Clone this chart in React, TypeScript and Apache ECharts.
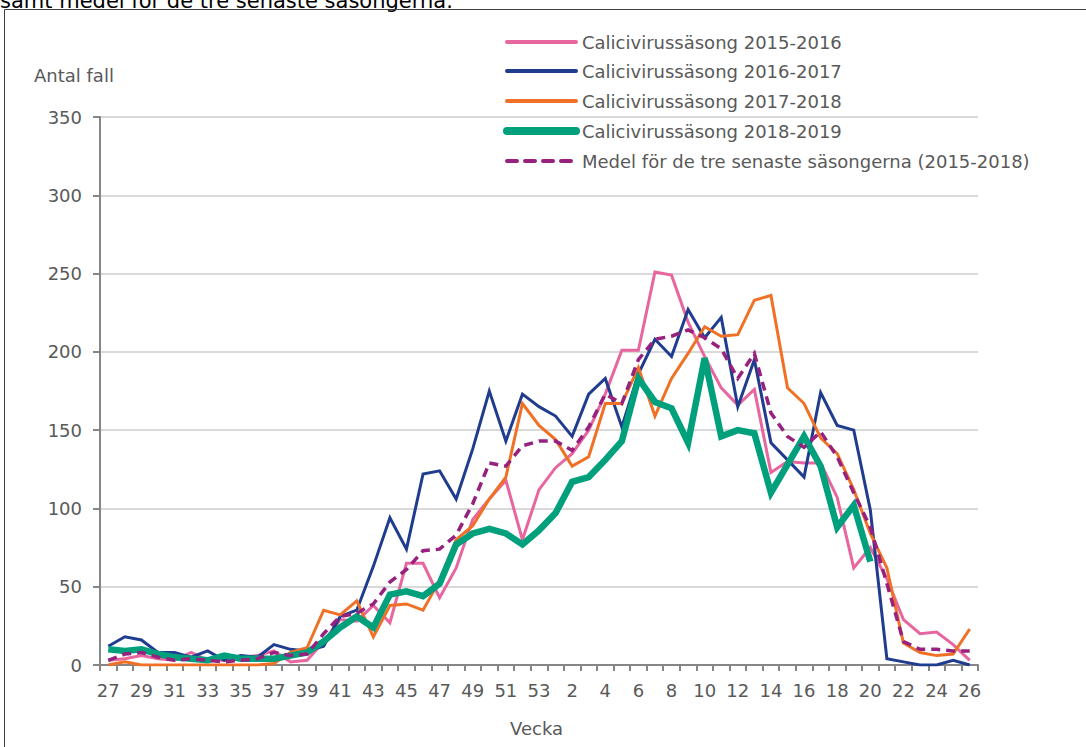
import React, { useEffect, useRef } from "react";
import * as echarts from "echarts";

const weeks: string[] = [
  "27","28","29","30","31","32","33","34","35","36","37","38","39","40","41","42","43","44","45","46","47","48","49","50","51","52","53",
  "1","2","3","4","5","6","7","8","9","10","11","12","13","14","15","16","17","18","19","20","21","22","23","24","25","26",
];

const season1516: number[] = [
  3,4,6,4,3,8,3,3,5,6,9,2,3,15,29,28,38,27,65,65,43,62,93,106,118,80,112,
  126,135,150,173,201,201,251,249,219,197,177,166,176,123,130,129,129,107,62,75,55,29,20,21,13,3,
];
const season1617: number[] = [
  12,18,16,8,8,5,9,3,6,5,13,10,9,12,31,35,63,94,74,122,124,106,138,175,143,173,165,
  159,146,173,183,152,186,208,197,227,209,222,165,195,142,131,120,174,153,150,99,4,2,0,0,3,0,
];
const season1718: number[] = [
  0,2,0,0,0,0,0,0,0,0,1,8,11,35,32,41,18,38,39,35,54,80,89,106,120,167,153,
  144,127,133,167,167,190,159,183,199,216,210,211,233,236,177,167,145,135,112,84,62,14,8,6,7,23,
];
const season1819: (number | null)[] = [
  10,9,10,7,5,4,3,6,4,4,4,6,8,15,24,31,24,45,47,44,52,77,84,87,84,77,86,
  97,117,120,131,143,183,168,164,142,196,146,150,148,110,128,146,127,88,102,66,null,null,null,null,null,null,
];
const mean1518: number[] = [
  3,7,8,5,3,4,3,2,3,4,8,6,7,20,31,33,39,53,61,73,74,83,103,129,127,140,143,
  143,137,152,173,167,195,208,210,214,209,202,183,199,161,146,139,149,133,110,88,52,15,10,10,9,9,
];

const seriesNames = [
  "Calicivirussäsong 2015-2016",
  "Calicivirussäsong 2016-2017",
  "Calicivirussäsong 2017-2018",
  "Calicivirussäsong 2018-2019",
  "Medel för de tre senaste säsongerna (2015-2018)",
];
const colors = ["#e7669f", "#203c8f", "#f07125", "#00a07d", "#96217f"];

const FONT = "'DejaVu Sans', Verdana, sans-serif";
const TXT = "#595959";

export default function App() {
  const ref = useRef<HTMLDivElement>(null);
  useEffect(() => {
    if (!ref.current) return;
    const chart = echarts.init(ref.current, undefined, { renderer: "svg" });
    const mk = (name: string, data: (number | null)[], color: string, width: number, type: any = "solid", z = 2) => ({
      name,
      type: "line",
      data,
      symbol: "none",
      z,
      lineStyle: { color, width, type, cap: "butt", join: "miter" },
      itemStyle: { color },
    });

    const legendY = [42, 71, 101, 131, 161];
    const legendWidths = [4, 4, 4, 8, 4];
    const legendGraphics: any[] = [];
    seriesNames.forEach((n, i) => {
      legendGraphics.push({
        type: "line",
        shape: { x1: 507, y1: legendY[i], x2: 576, y2: legendY[i] },
        style: {
          stroke: colors[i],
          lineWidth: legendWidths[i],
          lineCap: "round",
          lineDash: i === 4 ? [10, 8] : null,
        },
        silent: true,
      });
      legendGraphics.push({
        type: "text",
        x: 582,
        y: legendY[i],
        style: { text: n, fill: TXT, font: `18px ${FONT}`, textVerticalAlign: "middle", verticalAlign: "middle" },
        silent: true,
      });
    });

    chart.setOption({
      animation: false,
      backgroundColor: "#ffffff",
      textStyle: { fontFamily: FONT },
      grid: { left: 100, right: 108, top: 117, bottom: 82, containLabel: false },
      xAxis: {
        type: "category",
        data: weeks,
        boundaryGap: true,
        axisLine: { lineStyle: { color: "#868686", width: 2 } },
        axisTick: { show: true, interval: 0, length: 6, lineStyle: { color: "#868686", width: 2 } },
        axisLabel: { interval: 1, color: TXT, fontSize: 18, fontFamily: FONT, margin: 16 },
        splitLine: { show: false },
      },
      yAxis: {
        type: "value",
        min: 0,
        max: 350,
        interval: 50,
        axisLine: { show: true, lineStyle: { color: "#868686", width: 2 } },
        axisTick: { show: true, length: 7, lineStyle: { color: "#868686", width: 2 } },
        axisLabel: { color: TXT, fontSize: 18, fontFamily: FONT, margin: 18 },
        splitLine: { show: true, lineStyle: { color: "#d9d9d9", width: 2 } },
      },
      graphic: [
        {
          type: "text",
          x: 0,
          y: 11,
          style: {
            text: "samt medel för de tre senaste säsongerna.",
            fill: "#000",
            font: `21px ${FONT}`,
            verticalAlign: "bottom",
            textVerticalAlign: "bottom",
          },
        },
        {
          type: "rect",
          shape: { x: 4.5, y: 9.5, width: 1200, height: 900 },
          style: { fill: "none", stroke: "#404040", lineWidth: 1 },
          silent: true,
        },
        {
          type: "text",
          left: 34,
          top: 66,
          style: { text: "Antal fall", fill: TXT, font: `18px ${FONT}` },
        },
        {
          type: "text",
          left: 510,
          top: 719,
          style: { text: "Vecka", fill: TXT, font: `18px ${FONT}` },
        },
        ...legendGraphics,
      ],
      series: [
        mk(seriesNames[0], season1516, colors[0], 3),
        mk(seriesNames[1], season1617, colors[1], 3),
        mk(seriesNames[2], season1718, colors[2], 3),
        mk(seriesNames[3], season1819, colors[3], 6.5, "solid", 3),
        mk(seriesNames[4], mean1518, colors[4], 3.5, [9, 6], 4),
      ],
    });
    return () => chart.dispose();
  }, []);
  return <div ref={ref} style={{ position: "fixed", left: 0, top: 0, width: 1086, height: 747 }} />;
}
